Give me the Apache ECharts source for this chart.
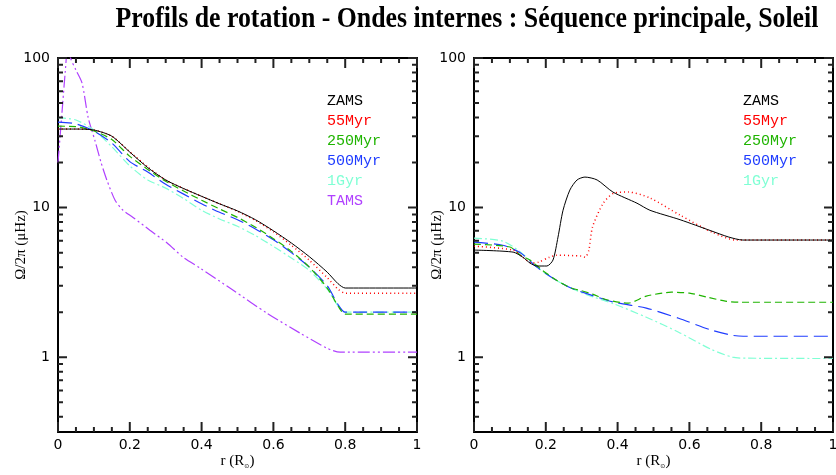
<!DOCTYPE html>
<html>
<head>
<meta charset="utf-8">
<script src="https://cdn.jsdelivr.net/npm/echarts@6/dist/echarts.min.js"></script>
<style>
  html, body { margin: 0; padding: 0; background: #fff; }
  #main { width: 836px; height: 475px; }
</style>
</head>
<body>
<div id="main"></div>
<script>
// series names / colours
var seriesNames = ['ZAMS', '55Myr', '250Myr', '500Myr', '1Gyr', 'TAMS'];
var seriesColors = ['#000000', '#ff0000', '#1fb400', '#1f3cff', '#7fffd4', '#b040ff'];

// axis ticks
var xTicks = [0, 0.2, 0.4, 0.6, 0.8, 1];
var xMinor = [0.05, 0.1, 0.15, 0.25, 0.3, 0.35, 0.45, 0.5, 0.55, 0.65, 0.7, 0.75, 0.85, 0.9, 0.95];
var yMajor = [1, 10, 100];
var yMinor = [0.4, 0.5, 0.6, 0.7, 0.8, 0.9, 2, 3, 4, 5, 6, 7, 8, 9, 20, 30, 40, 50, 60, 70, 80, 90];

// left panel (r in R_sun, Omega/2pi in microHz)
var rLeft = [0, 0.05, 0.1, 0.15, 0.2, 0.25, 0.3, 0.35, 0.4, 0.45, 0.5, 0.55, 0.6, 0.65, 0.7, 0.75, 0.78, 0.8, 1];
var zamsLeft = [33.5, 33.5, 33.0, 30.0, 23.5, 18.5, 15.3, 13.4, 11.9, 10.6, 9.5, 8.3, 7.0, 5.8, 4.7, 3.7, 3.1, 2.9, 2.9];
var myr55Left = [33.5, 33.5, 33.0, 30.0, 23.6, 18.7, 15.3, 13.4, 11.9, 10.6, 9.45, 8.2, 6.9, 5.6, 4.45, 3.4, 2.85, 2.68, 2.68];
var myr250Left = [35.0, 34.8, 32.5, 28.5, 22.0, 18.0, 15.0, 12.9, 11.2, 9.8, 8.6, 7.4, 6.2, 5.1, 4.0, 2.9, 2.2, 1.94, 1.94];
var myr500Left = [37.3, 36.3, 32.5, 27.0, 20.3, 17.3, 14.3, 12.3, 10.6, 9.3, 8.3, 7.2, 6.1, 5.0, 4.0, 3.0, 2.25, 2.0, 2.0];
var gyr1Left = [40.0, 38.5, 33.0, 25.5, 19.0, 15.3, 13.5, 11.5, 9.6, 8.4, 7.5, 6.5, 5.5, 4.6, 3.8, 2.85, 2.2, 2.0, 2.0];
var rTamsLeft = [0, 0.01, 0.02, 0.028, 0.035, 0.05, 0.067, 0.084, 0.103, 0.12, 0.136, 0.159, 0.181, 0.209, 0.256, 0.304, 0.348, 0.396, 0.487, 0.582, 0.674, 0.749, 0.786, 1];
var tamsLeft = [20, 40, 80, 125, 100, 83, 68, 40, 28, 20, 15.3, 11.2, 9.6, 8.6, 7.06, 5.8, 4.67, 3.94, 2.81, 1.97, 1.45, 1.15, 1.08, 1.08];

// right panel
var rZamsRight = [0, 0.109, 0.136, 0.156, 0.175, 0.203, 0.22, 0.234, 0.248, 0.267, 0.287, 0.309, 0.343, 0.387, 0.454, 0.49, 0.574, 0.66, 0.71, 0.749, 1];
var zamsRight = [5.2, 5.04, 4.66, 4.26, 4.07, 4.07, 4.46, 6.35, 9.6, 13.1, 15.3, 16.0, 15.3, 12.7, 10.7, 9.6, 8.3, 7.0, 6.35, 6.07, 6.07];
var r55Right = [0, 0.109, 0.136, 0.16, 0.18, 0.21, 0.23, 0.3, 0.31, 0.32, 0.33, 0.36, 0.39, 0.43, 0.49, 0.574, 0.666, 0.73, 1];
var myr55Right = [5.52, 5.2, 4.66, 4.26, 4.32, 4.66, 4.81, 4.74, 4.66, 5.2, 7.4, 10.7, 12.5, 12.7, 11.6, 8.9, 6.8, 6.07, 6.07];
var r250Right = [0, 0.1, 0.13, 0.156, 0.19, 0.23, 0.27, 0.3, 0.33, 0.37, 0.43, 0.48, 0.55, 0.6, 0.65, 0.7, 0.74, 1];
var myr250Right = [5.7, 5.45, 4.8, 4.46, 3.82, 3.27, 2.9, 2.78, 2.64, 2.42, 2.30, 2.56, 2.72, 2.68, 2.52, 2.37, 2.33, 2.33];
var r500Right = [0, 0.08, 0.13, 0.175, 0.22, 0.27, 0.31, 0.39, 0.48, 0.57, 0.66, 0.72, 0.75, 1];
var myr500Right = [5.87, 5.6, 4.97, 4.0, 3.37, 2.9, 2.68, 2.33, 2.13, 1.82, 1.52, 1.40, 1.38, 1.38];
var r1GRight = [0, 0.08, 0.13, 0.175, 0.22, 0.27, 0.31, 0.39, 0.48, 0.57, 0.66, 0.72, 0.76, 1];
var gyr1Right = [6.25, 5.97, 5.04, 4.0, 3.37, 2.9, 2.64, 2.27, 1.85, 1.47, 1.13, 1.0, 0.985, 0.98];

var X_MIN = 0, X_MAX = 1, Y_MIN = Math.sqrt(0.1), Y_MAX = 100;

var chart = echarts.init(document.getElementById('main'));

function zip(xs, ys) {
  return xs.map(function (x, i) { return [x, ys[i]]; });
}

var lineTypes = ['solid', [1, 3], [7, 4], [14, 6], [8, 3, 2, 3], [12, 3, 2, 3, 2, 3]];
var lineWidths = [1, 1.5, 1.2, 1.2, 1.2, 1.2];

function makeSeries(idx, panel, data) {
  return {
    name: seriesNames[idx],
    type: 'line',
    xAxisIndex: panel * 2,
    yAxisIndex: panel * 2,
    data: data,
    showSymbol: false,
    smooth: 0.25,
    silent: true,
    lineStyle: { color: seriesColors[idx], width: lineWidths[idx], type: lineTypes[idx] },
    itemStyle: { color: seriesColors[idx] },
    z: 20 - idx
  };
}

// inward tick marks on all four sides of a panel, drawn as short line
// series from the frame to a point a fixed fraction of the box inside it
function tickLines(panel, segs) {
  return {
    type: 'line', silent: true, xAxisIndex: panel * 2, yAxisIndex: panel * 2, z: 30,
    showSymbol: false, clip: false, connectNulls: false,
    lineStyle: { color: '#222', width: 2, type: 'solid' },
    data: segs
  };
}
function xTickSegs(values, dec) {
  var pts = [];
  values.forEach(function (v) {
    pts.push([v, Y_MIN], [v, Y_MIN * Math.pow(10, dec)], [v, '-']);
    pts.push([v, Y_MAX], [v, Y_MAX / Math.pow(10, dec)], [v, '-']);
  });
  return pts;
}
function yTickSegs(values, frac) {
  var pts = [];
  values.forEach(function (v) {
    pts.push([X_MIN, v], [X_MIN + frac, v], ['-', v]);
    pts.push([X_MAX, v], [X_MAX - frac, v], ['-', v]);
  });
  return pts;
}

var axisLine = { show: true, onZero: false, lineStyle: { color: '#000', width: 2 } };

function xAxes(grid) {
  var base = {
    gridIndex: grid, type: 'value', min: X_MIN, max: X_MAX, interval: 0.2,
    axisLine: axisLine,
    splitLine: { show: false },
    axisTick: { show: false },
    minorTick: { show: false }
  };
  var bottom = Object.assign({}, base, {
    position: 'bottom',
    name: 'r (R{s|⊙})',
    nameLocation: 'middle',
    nameGap: 22,
    nameMoveOverlap: false,
    nameTextStyle: { fontFamily: 'Liberation Serif', fontSize: 15, color: '#000',
      rich: { s: { fontFamily: 'DejaVu Sans', fontSize: 6, verticalAlign: 'bottom', color: '#000' } } },
    axisLabel: { show: true, fontFamily: 'DejaVu Sans', fontSize: 14, color: '#000', margin: 6, customValues: xTicks }
  });
  var top = Object.assign({}, base, { position: 'top', axisLabel: { show: false } });
  return [bottom, top];
}

function yAxes(grid) {
  var base = {
    gridIndex: grid, type: 'log', logBase: 10, min: Y_MIN, max: Y_MAX,
    axisLine: axisLine,
    splitLine: { show: false },
    axisTick: { show: false },
    minorTick: { show: false },
    axisLabel: { show: false }
  };
  var left = Object.assign({}, base, {
    position: 'left',
    name: 'Ω/2π (μHz)',
    nameLocation: 'middle',
    nameGap: 29,
    nameMoveOverlap: false,
    nameTextStyle: { fontFamily: 'Liberation Serif', fontSize: 15, color: '#000' },
    axisLabel: { show: true, customValues: yMajor, fontFamily: 'DejaVu Sans', fontSize: 14, color: '#000', margin: 8 }
  });
  var right = Object.assign({}, base, { position: 'right' });
  return [left, right];
}

function legendFor(left, names) {
  return {
    left: left, top: 89, orient: 'vertical',
    icon: 'none', itemWidth: 0, itemHeight: 15, itemGap: 5,
    selectedMode: false,
    textStyle: { fontFamily: 'Liberation Mono', fontSize: 15 },
    data: names.map(function (n) {
      return { name: n, textStyle: { color: seriesColors[seriesNames.indexOf(n)] } };
    })
  };
}

var series = [
  makeSeries(0, 0, zip(rLeft, zamsLeft)),
  makeSeries(1, 0, zip(rLeft, myr55Left)),
  makeSeries(2, 0, zip(rLeft, myr250Left)),
  makeSeries(3, 0, zip(rLeft, myr500Left)),
  makeSeries(4, 0, zip(rLeft, gyr1Left)),
  makeSeries(5, 0, zip(rTamsLeft, tamsLeft)),
  makeSeries(0, 1, zip(rZamsRight, zamsRight)),
  makeSeries(1, 1, zip(r55Right, myr55Right)),
  makeSeries(2, 1, zip(r250Right, myr250Right)),
  makeSeries(3, 1, zip(r500Right, myr500Right)),
  makeSeries(4, 1, zip(r1GRight, gyr1Right))
];
[0, 1].forEach(function (p) {
  series.push(tickLines(p, xTickSegs(xTicks, 10 / 149.5)
    .concat(xTickSegs(xMinor, 5 / 149.5))
    .concat(yTickSegs(yMajor, 9 / 359))
    .concat(yTickSegs(yMinor, 5 / 359))));
});

var option = {
  animation: false,
  backgroundColor: '#fff',
  graphic: [{
    type: 'text', x: 467, y: 19, scaleX: 0.86,
    style: {
      text: 'Profils de rotation - Ondes internes : Séquence principale, Soleil',
      font: 'bold 30px "Liberation Serif"', fill: '#000',
      textAlign: 'center', textVerticalAlign: 'middle'
    }
  }],
  grid: [
    { show: false, left: 58, top: 58, width: 359, height: 374, outerBoundsMode: 'none' },
    { show: false, left: 474, top: 58, width: 359, height: 374, outerBoundsMode: 'none' }
  ],
  legend: [
    legendFor(317, seriesNames),
    legendFor(733, seriesNames.slice(0, 5))
  ],
  xAxis: xAxes(0).concat(xAxes(1)),
  yAxis: yAxes(0).concat(yAxes(1)),
  series: series
};

chart.setOption(option);
</script>
</body>
</html>
